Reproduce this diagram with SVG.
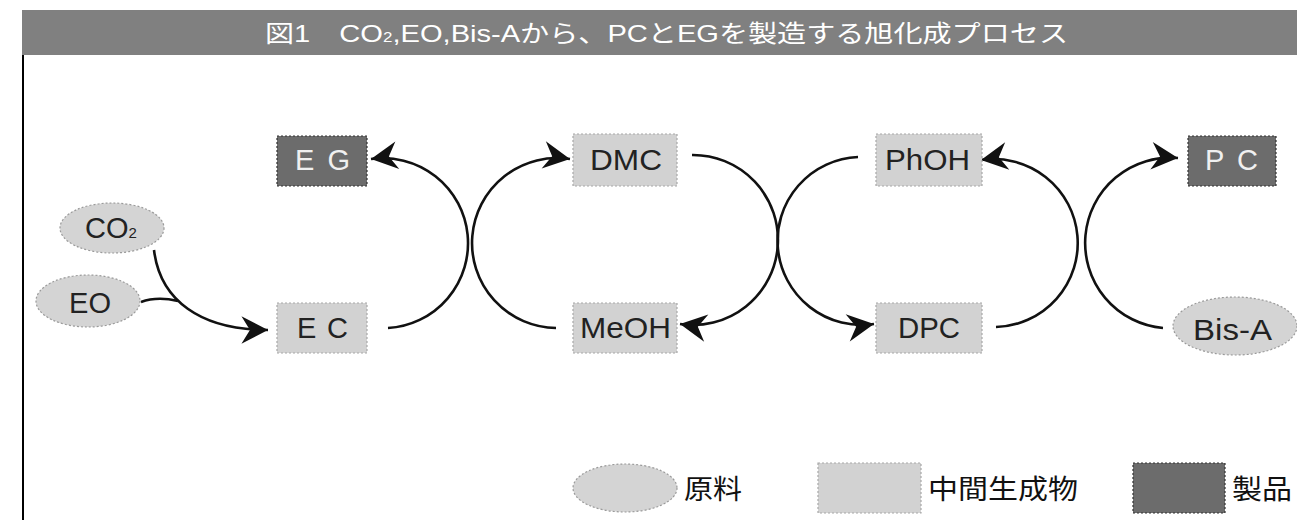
<svg xmlns="http://www.w3.org/2000/svg" width="1297" height="520" viewBox="0 0 1297 520">
<style>
.mid{fill:#d2d2d2;stroke:#a8a8a8;stroke-width:1.2;stroke-dasharray:2 2}
.prod{fill:#6c6c6c;stroke:#333;stroke-width:1.2;stroke-dasharray:2 2}
.raw{fill:#d4d4d4;stroke:#9a9a9a;stroke-width:1.2;stroke-dasharray:2 2}
.t{font-family:"Liberation Sans","Noto Sans CJK JP",sans-serif;font-size:29px;fill:#222}
.tw{font-family:"Liberation Sans","Noto Sans CJK JP",sans-serif;font-size:29px;fill:#f0f0f0}
.lg{font-family:"Noto Sans CJK JP",sans-serif;font-size:27px;fill:#111}
.c{fill:none;stroke:#111;stroke-width:2.6}
</style>
<defs>
<marker id="ah" markerUnits="userSpaceOnUse" markerWidth="34" markerHeight="34" viewBox="-28 -16 32 32" refX="0" refY="0" orient="auto">
<path d="M0,0 L-25,-13 L-17,0 L-25,13 Z" fill="#111"/>
</marker>
</defs>
<rect x="22" y="10" width="1275" height="45" fill="#808080"/>
<text x="265" y="42" textLength="803" lengthAdjust="spacingAndGlyphs" style="font-family:'Liberation Sans','Noto Sans CJK JP',sans-serif;font-size:24px;fill:#fff">図1　CO<tspan font-size="14">2</tspan>,EO,Bis-Aから、PCとEGを製造する旭化成プロセス</text>
<line x1="23" y1="55" x2="23" y2="520" stroke="#000" stroke-width="2"/>

<g id="connectors">
<path class="c" d="M154,250 C160,300 200,330 268,330" marker-end="url(#ah)"/>
<path class="c" d="M141,302 C152,298 165,298 178,301"/>
<path class="c" d="M388,328 A85,85 0 1 0 371,159" marker-end="url(#ah)"/>
<path class="c" d="M556,328 A85,85 0 1 1 570,159" marker-end="url(#ah)"/>
<path class="c" d="M692,155 A85,85 0 1 1 680,324" marker-end="url(#ah)"/>
<path class="c" d="M858,157 A84,84 0 1 0 874,324" marker-end="url(#ah)"/>
<path class="c" d="M996,327 A84,84 0 1 0 981,160" marker-end="url(#ah)"/>
<path class="c" d="M1163,328 A85,85 0 1 1 1178,158" marker-end="url(#ah)"/>
</g>

<g id="co2"><ellipse class="raw" cx="112" cy="228" rx="52" ry="25"/><text class="t" x="85" y="238" font-size="28">CO<tspan font-size="15">2</tspan></text></g>
<g id="eo"><ellipse class="raw" cx="88" cy="301" rx="52" ry="26"/><text class="t" x="69" y="313" textLength="42" lengthAdjust="spacingAndGlyphs">EO</text></g>
<g id="eg"><rect class="prod" x="277" y="136" width="90" height="50"/><text class="tw" x="295" y="170" textLength="55" lengthAdjust="spacing">E G</text></g>
<g id="ec"><rect class="mid" x="277" y="303" width="90" height="50"/><text class="t" x="297" y="338" textLength="51" lengthAdjust="spacing">E C</text></g>
<g id="dmc"><rect class="mid" x="573" y="134" width="104" height="52"/><text class="t" x="590" y="170" textLength="72" lengthAdjust="spacingAndGlyphs">DMC</text></g>
<g id="meoh"><rect class="mid" x="573" y="303" width="104" height="50"/><text class="t" x="580" y="338" textLength="91" lengthAdjust="spacingAndGlyphs">MeOH</text></g>
<g id="phoh"><rect class="mid" x="876" y="134" width="106" height="52"/><text class="t" x="885" y="170" textLength="85" lengthAdjust="spacingAndGlyphs">PhOH</text></g>
<g id="dpc"><rect class="mid" x="876" y="303" width="106" height="50"/><text class="t" x="898" y="338" textLength="62" lengthAdjust="spacingAndGlyphs">DPC</text></g>
<g id="pc"><rect class="prod" x="1188" y="136" width="88" height="50"/><text class="tw" x="1205" y="170" textLength="53" lengthAdjust="spacing">P C</text></g>
<g id="bisa"><ellipse class="raw" cx="1235" cy="326" rx="62" ry="29"/><text class="t" x="1193" y="340" textLength="79" lengthAdjust="spacingAndGlyphs">Bis-A</text></g>

<g id="legend">
<ellipse class="raw" cx="625" cy="488" rx="52" ry="24"/>
<text class="lg" x="684" y="499" textLength="58" lengthAdjust="spacingAndGlyphs">原料</text>
<rect class="mid" x="818" y="463" width="103" height="50"/>
<text class="lg" x="928" y="499" textLength="150" lengthAdjust="spacingAndGlyphs">中間生成物</text>
<rect class="prod" x="1133" y="463" width="92" height="50"/>
<text class="lg" x="1232" y="499" textLength="60" lengthAdjust="spacingAndGlyphs">製品</text>
</g>
</svg>
